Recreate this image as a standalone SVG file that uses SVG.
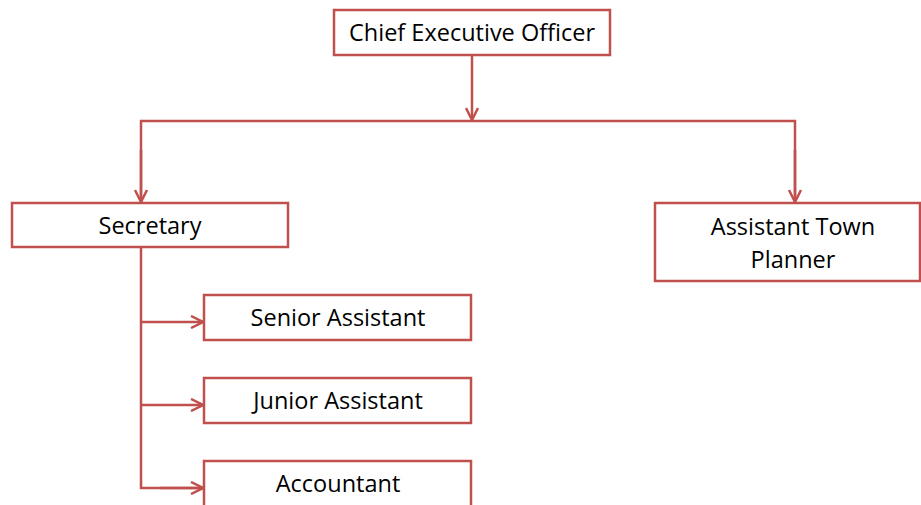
<svg xmlns="http://www.w3.org/2000/svg" width="921" height="505" viewBox="0 0 921 505">
<style>
.box{fill:#fff;stroke:#c0504d;stroke-width:2.5}
.lbl{font-family:"Open Sans","Liberation Sans",sans-serif;font-size:23.5px;fill:#000;text-anchor:middle}
.con{fill:none;stroke:#c0504d;stroke-width:2.5}
</style>
<defs>
<marker id="arr" viewBox="0 0 14 14" refX="13" refY="7" markerWidth="14" markerHeight="14" markerUnits="userSpaceOnUse" orient="auto">
<path d="M1,1 L13,7 L1,13" fill="none" stroke="#c0504d" stroke-width="2.5"/>
</marker>
</defs>
<rect width="921" height="505" fill="#fff"/>
<g id="connectors">
<line class="con" x1="472" y1="55" x2="472" y2="120" marker-end="url(#arr)"/>
<polyline class="con" points="141,202 141,121 795,121 795,202"/>
<line class="con" x1="141" y1="150" x2="141" y2="202" marker-end="url(#arr)"/>
<line class="con" x1="795" y1="150" x2="795" y2="202" marker-end="url(#arr)"/>
<polyline class="con" points="141,247 141,488 203,488"/>
<line class="con" x1="141" y1="322" x2="203" y2="322" marker-end="url(#arr)"/>
<line class="con" x1="141" y1="405" x2="203" y2="405" marker-end="url(#arr)"/>
<line class="con" x1="160" y1="488" x2="203" y2="488" marker-end="url(#arr)"/>
</g>
<g id="ceo">
<rect class="box" x="334" y="10" width="276" height="45"/>
<text class="lbl" x="472" y="41">Chief Executive Officer</text>
</g>
<g id="secretary">
<rect class="box" x="12" y="203" width="276" height="44"/>
<text class="lbl" x="150" y="234">Secretary</text>
</g>
<g id="assistant-town-planner">
<rect class="box" x="655" y="203" width="265" height="78"/>
<text class="lbl" x="793" y="235">Assistant Town</text>
<text class="lbl" x="793" y="268">Planner</text>
</g>
<g id="senior-assistant">
<rect class="box" x="204" y="295" width="267" height="45"/>
<text class="lbl" x="338" y="326">Senior Assistant</text>
</g>
<g id="junior-assistant">
<rect class="box" x="204" y="378" width="267" height="45"/>
<text class="lbl" x="338" y="409">Junior Assistant</text>
</g>
<g id="accountant">
<rect class="box" x="204" y="461" width="267" height="50"/>
<text class="lbl" x="338" y="492">Accountant</text>
</g>
</svg>
